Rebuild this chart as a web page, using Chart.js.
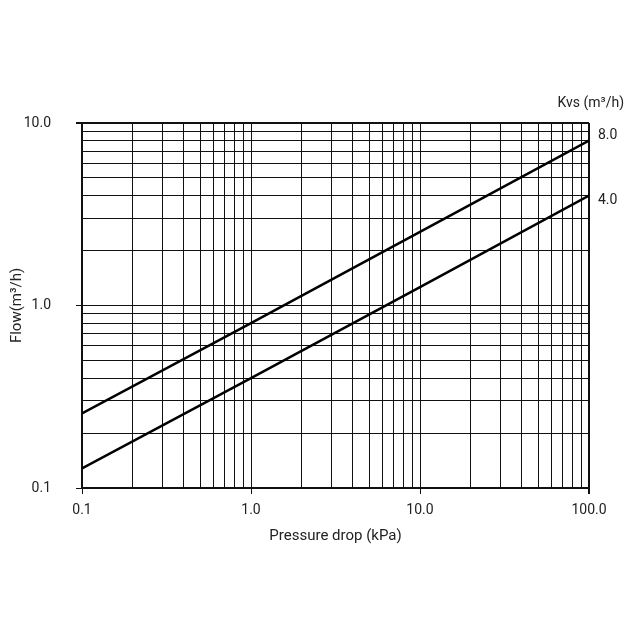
<!DOCTYPE html>
<html>
<head>
<meta charset="utf-8">
<script src="https://cdn.jsdelivr.net/npm/chart.js@4.4.1/dist/chart.umd.min.js"></script>
<style>
    body { margin: 0; background: #fff; }
    #wrap { width: 640px; height: 640px; }
</style>
</head>
<body>
<div id="wrap"><canvas id="kvs-chart" width="640" height="640"></canvas></div>
<script>
// values
const pressureDrop = [0.1, 1, 10, 100];
const flowKvs8 = [0.256, 0.8, 2.53, 8.0];
const flowKvs4 = [0.128, 0.4, 1.26, 4.0];
const seriesNames = ['8.0', '4.0'];

const xTicks = [0.1, 0.2, 0.3, 0.4, 0.5, 0.6, 0.7, 0.8, 0.9,
    1, 2, 3, 4, 5, 6, 7, 8, 9,
    10, 20, 30, 40, 50, 60, 70, 80, 90, 100];
const yTicks = [0.1, 0.2, 0.3, 0.4, 0.5, 0.6, 0.7, 0.8, 0.9,
    1, 2, 3, 4, 5, 6, 7, 8, 9, 10];
const xMajor = [0.1, 1, 10, 100];
const xMajorLabels = ['0.1', '1.0', '10.0', '100.0'];
const yMajor = [0.1, 1, 10];
const yMajorLabels = ['0.1', '1.0', '10.0'];

const ink = '#111';
const textColor = '#222';
const fontFamily = 'Roboto, "Liberation Sans", sans-serif';

document.addEventListener("DOMContentLoaded", () => {
    const canvas = document.getElementById('kvs-chart');
    const ctx = canvas.getContext('2d');

    const toPoints = ys => pressureDrop.map((x, i) => ({ x: x, y: ys[i] }));
    const isMajor = (list, v) => list.some(m => Math.abs(m - v) < 1e-9);
    const labelFor = (list, labels, v) => {
        const i = list.findIndex(m => Math.abs(m - v) < 1e-9);
        return i >= 0 ? labels[i] : '';
    };

    // line end labels and the Kvs header on the right side
    const endLabels = {
        id: 'endLabels',
        afterDraw(chart) {
            const c = chart.ctx;
            const area = chart.chartArea;
            const offsets = [-5, 5];
            c.save();
            c.font = '14px ' + fontFamily;
            c.fillStyle = textColor;
            c.textBaseline = 'middle';
            c.textAlign = 'left';
            chart.data.datasets.forEach((ds, i) => {
                const meta = chart.getDatasetMeta(i);
                const last = meta.data[meta.data.length - 1];
                c.fillText(ds.label, area.right + 9, last.y + offsets[i]);
            });
            c.textAlign = 'right';
            c.fillText('Kvs (m³/h)', 624, 103);
            c.restore();
        }
    };

    new Chart(ctx, {
        type: 'line',
        data: {
            datasets: [
                {
                    label: seriesNames[0],
                    data: toPoints(flowKvs8),
                    borderColor: '#000',
                    borderWidth: 2.5,
                    pointRadius: 0,
                    fill: false
                },
                {
                    label: seriesNames[1],
                    data: toPoints(flowKvs4),
                    borderColor: '#000',
                    borderWidth: 2.5,
                    pointRadius: 0,
                    fill: false
                }
            ]
        },
        options: {
            responsive: false,
            animation: false,
            layout: {
                padding: { top: 123, right: 51, bottom: 91, left: 0 }
            },
            plugins: {
                legend: { display: false },
                tooltip: { enabled: false }
            },
            scales: {
                x: {
                    type: 'logarithmic',
                    min: 0.1,
                    max: 100,
                    afterBuildTicks: scale => {
                        scale.ticks = xTicks.map(v => ({ value: v, major: isMajor(xMajor, v) }));
                    },
                    afterFit: scale => { scale.height = 61; },
                    ticks: {
                        autoSkip: false,
                        maxRotation: 0,
                        padding: 8,
                        color: textColor,
                        font: { family: fontFamily, size: 14 },
                        callback: v => labelFor(xMajor, xMajorLabels, v)
                    },
                    grid: {
                        color: ink,
                        lineWidth: c => (c.tick && c.tick.value === 100 ? 2 : 1),
                        tickLength: 6,
                        tickColor: c => (c.tick && isMajor(xMajor, c.tick.value) ? ink : 'rgba(0,0,0,0)')
                    },
                    border: { color: ink, width: 2 },
                    title: {
                        display: true,
                        text: 'Pressure drop (kPa)',
                        color: textColor,
                        font: { family: fontFamily, size: 15 },
                        padding: { top: 4, bottom: 4 }
                    }
                },
                y: {
                    type: 'logarithmic',
                    min: 0.1,
                    max: 10,
                    afterBuildTicks: scale => {
                        scale.ticks = yTicks.map(v => ({ value: v, major: isMajor(yMajor, v) }));
                    },
                    afterFit: scale => { scale.width = 82; },
                    ticks: {
                        autoSkip: false,
                        padding: 25,
                        color: textColor,
                        font: { family: fontFamily, size: 14 },
                        callback: v => labelFor(yMajor, yMajorLabels, v)
                    },
                    grid: {
                        color: ink,
                        lineWidth: c => (c.tick && c.tick.value === 10 ? 2 : 1),
                        tickLength: 6,
                        tickColor: c => (c.tick && isMajor(yMajor, c.tick.value) ? ink : 'rgba(0,0,0,0)')
                    },
                    border: { color: ink, width: 2 },
                    title: {
                        display: true,
                        text: 'Flow(m³/h)',
                        color: textColor,
                        font: { family: fontFamily, size: 15 },
                        padding: { top: 8, bottom: 0 }
                    }
                }
            }
        },
        plugins: [endLabels]
    });
});
</script>
</body>
</html>
